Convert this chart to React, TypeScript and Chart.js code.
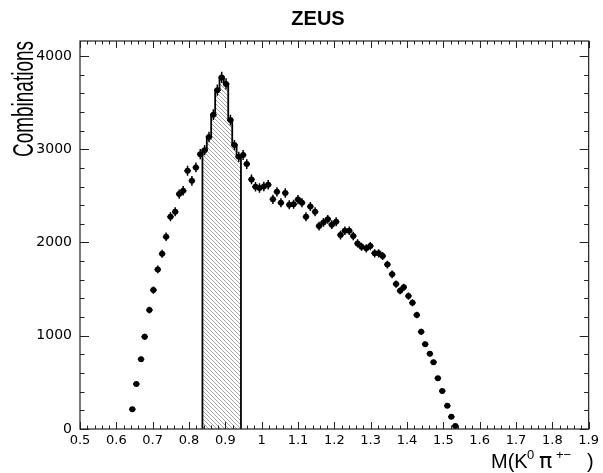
import React, { useEffect, useRef } from 'react';
import { Chart, registerables } from 'chart.js';

Chart.register(...registerables);

const TITLE = 'ZEUS';
const Y_TITLE = 'Combinations';
const X_TITLE_PARTS = ['M(K', '0', 'π', '+−', ')'];

// Bin centres of the K0 pi+- invariant mass (GeV)
const massValues = [
  0.644, 0.655, 0.668, 0.678, 0.691, 0.702, 0.714, 0.726, 0.737, 0.749,
  0.762, 0.773, 0.784, 0.796, 0.808, 0.819, 0.831, 0.843, 0.855, 0.867,
  0.878, 0.890, 0.902, 0.914, 0.925, 0.937, 0.949, 0.959, 0.972, 0.983,
  0.994, 1.006, 1.018, 1.031, 1.042, 1.053, 1.065, 1.076, 1.088, 1.100,
  1.111, 1.122, 1.134, 1.147, 1.158, 1.170, 1.182, 1.193, 1.205, 1.217,
  1.229, 1.241, 1.252, 1.264, 1.275, 1.288, 1.299, 1.311, 1.322, 1.333,
  1.346, 1.359, 1.370, 1.381, 1.391, 1.404, 1.415, 1.427, 1.439, 1.450,
  1.463, 1.473, 1.485, 1.497, 1.511, 1.522, 1.533,
];

// Combinations per bin
const combinations = [
  211, 482, 747, 989, 1275, 1490, 1711, 1879, 2061, 2276,
  2329, 2519, 2554, 2769, 2661, 2805, 2947, 2990, 3130, 3370,
  3633, 3770, 3700, 3312, 3044, 2918, 2937, 2840, 2676, 2597,
  2585, 2600, 2620, 2462, 2543, 2426, 2530, 2404, 2410, 2460,
  2426, 2276, 2386, 2329, 2176, 2215, 2248, 2190, 2222, 2079,
  2125, 2125, 2069, 1990, 1954, 1937, 1961, 1883, 1883, 1854,
  1763, 1658, 1554, 1482, 1519, 1425, 1354, 1222, 1043, 908,
  807, 715, 543, 407, 250, 132, 32,
];

// Vertical error bar half-lengths
const combErrors = [
  15, 22, 27, 31, 36, 39, 41, 43, 45, 48,
  48, 50, 51, 53, 52, 53, 54, 55, 56, 58,
  60, 61, 61, 58, 55, 54, 54, 53, 52, 51,
  51, 51, 51, 50, 50, 49, 50, 49, 49, 50,
  49, 48, 49, 48, 47, 47, 47, 47, 47, 46,
  46, 46, 45, 45, 44, 44, 44, 43, 43, 43,
  42, 41, 39, 38, 39, 38, 37, 35, 32, 30,
  28, 27, 23, 20, 16, 11, 6,
];
const massError = 0.009;

// Shaded K*(892) signal-window histogram
const histEdges = [0.837, 0.849, 0.861, 0.872, 0.884, 0.896, 0.908, 0.919, 0.931, 0.943];
const histCounts = [2990, 3130, 3370, 3633, 3770, 3700, 3312, 3044, 2918];

const xTickValues = [0.5, 0.6, 0.7, 0.8, 0.9, 1.0, 1.1, 1.2, 1.3, 1.4, 1.5, 1.6, 1.7, 1.8, 1.9];
const xTickLabels = ['0.5', '0.6', '0.7', '0.8', '0.9', '1', '1.1', '1.2', '1.3', '1.4', '1.5', '1.6', '1.7', '1.8', '1.9'];
const yTickValues = [0, 1000, 2000, 3000, 4000];
const yTickLabels = ['0', '1000', '2000', '3000', '4000'];

const X_MIN = 0.5;
const X_MAX = 1.9;
const Y_MIN = 0;
const Y_MAX = 4160;

const SANS = '"Liberation Sans", Arial, Helvetica, sans-serif';

function makeHatch(): CanvasPattern | string {
  const c = document.createElement('canvas');
  c.width = 4;
  c.height = 4;
  const g = c.getContext('2d');
  if (!g) return '#ccc';
  g.fillStyle = '#ffffff';
  g.fillRect(0, 0, 4, 4);
  g.strokeStyle = '#8c8c8c';
  g.lineWidth = 0.8;
  g.beginPath();
  g.moveTo(-1, -1);
  g.lineTo(5, 5);
  g.moveTo(-1, 3);
  g.lineTo(1, 5);
  g.moveTo(3, -1);
  g.lineTo(5, 1);
  g.stroke();
  const p = g.createPattern(c, 'repeat');
  return p || '#ccc';
}

const errorBarPlugin = {
  id: 'errorBars',
  afterDatasetsDraw(chart: any) {
    const { ctx, scales } = chart;
    const xs = scales.x;
    const ys = scales.y;
    ctx.save();
    ctx.strokeStyle = '#000';
    ctx.lineWidth = 1.5;
    ctx.beginPath();
    for (let i = 0; i < massValues.length; i++) {
      const px = xs.getPixelForValue(massValues[i]);
      const py = ys.getPixelForValue(combinations[i]);
      const y1 = ys.getPixelForValue(combinations[i] - combErrors[i]);
      const y2 = ys.getPixelForValue(combinations[i] + combErrors[i]);
      const x1 = xs.getPixelForValue(massValues[i] - massError);
      const x2 = xs.getPixelForValue(massValues[i] + massError);
      ctx.moveTo(px, y1);
      ctx.lineTo(px, y2);
      ctx.moveTo(x1, py);
      ctx.lineTo(x2, py);
    }
    ctx.stroke();
    ctx.restore();
  },
};

const decorPlugin = {
  id: 'decor',
  afterDraw(chart: any) {
    const { ctx, chartArea: a, scales } = chart;
    const xs = scales.x;
    const ys = scales.y;
    ctx.save();
    // frame
    ctx.strokeStyle = '#222';
    ctx.lineWidth = 1.2;
    ctx.strokeRect(a.left, a.top, a.right - a.left, a.bottom - a.top);
    // x ticks (top and bottom, inward)
    ctx.lineWidth = 1;
    ctx.beginPath();
    for (let k = 0; k <= 70; k++) {
      const v = X_MIN + k * 0.02;
      const px = Math.round(xs.getPixelForValue(v)) + 0.5;
      const len = k % 5 === 0 ? 7 : 3.5;
      ctx.moveTo(px, a.bottom);
      ctx.lineTo(px, a.bottom - len);
      ctx.moveTo(px, a.top);
      ctx.lineTo(px, a.top + len);
    }
    // y ticks (left and right, inward)
    for (let k = 0; k <= 20; k++) {
      const v = k * 200;
      const py = Math.round(ys.getPixelForValue(v)) + 0.5;
      const len = k % 5 === 0 ? 9 : 4.5;
      ctx.moveTo(a.left, py);
      ctx.lineTo(a.left + len, py);
      ctx.moveTo(a.right, py);
      ctx.lineTo(a.right - len, py);
    }
    ctx.stroke();

    ctx.fillStyle = '#000';
    // Title
    ctx.font = `bold 20px ${SANS}`;
    ctx.textAlign = 'center';
    ctx.textBaseline = 'alphabetic';
    ctx.fillText(TITLE, 318, 25);

    // Y-axis title, condensed along its length
    ctx.save();
    ctx.font = `29px ${SANS}`;
    const w = ctx.measureText(Y_TITLE).width;
    const targetLen = 116;
    ctx.translate(33, (a.top + 157) / 2);
    ctx.rotate(-Math.PI / 2);
    ctx.scale(targetLen / w, 1);
    ctx.textAlign = 'center';
    ctx.fillText(Y_TITLE, 0, 0);
    ctx.restore();

    // X-axis title M(K^0 pi^+-)
    const base = 468;
    ctx.textAlign = 'left';
    ctx.font = `20px ${SANS}`;
    ctx.fillText(X_TITLE_PARTS[0], 491, base);
    ctx.font = `13px ${SANS}`;
    ctx.fillText(X_TITLE_PARTS[1], 527, base - 9);
    ctx.font = `22px "DejaVu Sans", ${SANS}`;
    ctx.fillText(X_TITLE_PARTS[2], 539, base);
    ctx.font = `13px ${SANS}`;
    ctx.fillText(X_TITLE_PARTS[3], 556, base - 9);
    ctx.font = `20px ${SANS}`;
    ctx.fillText(X_TITLE_PARTS[4], 587, base);
    ctx.restore();
  },
};

export default function App() {
  const canvasRef = useRef<HTMLCanvasElement | null>(null);

  useEffect(() => {
    const canvas = canvasRef.current;
    if (!canvas) return;

    const histPoints: { x: number; y: number }[] = [];
    histPoints.push({ x: histEdges[0], y: 0 });
    for (let i = 0; i < histCounts.length; i++) {
      histPoints.push({ x: histEdges[i], y: histCounts[i] });
      histPoints.push({ x: histEdges[i + 1], y: histCounts[i] });
    }
    histPoints.push({ x: histEdges[histEdges.length - 1], y: 0 });

    const points = massValues.map((m, i) => ({ x: m, y: combinations[i] }));

    const chart = new Chart(canvas, {
      type: 'line',
      data: {
        datasets: [
          {
            label: 'data',
            data: points,
            showLine: false,
            pointRadius: 3,
            pointBackgroundColor: '#000',
            pointBorderWidth: 0,
            borderColor: '#000',
            order: 0,
          } as any,
          {
            label: 'signal window',
            data: histPoints,
            borderColor: '#000',
            borderWidth: 1.8,
            pointRadius: 0,
            tension: 0,
            fill: 'origin',
            backgroundColor: makeHatch(),
            order: 1,
          } as any,
        ],
      },
      options: {
        animation: false,
        responsive: false,
        devicePixelRatio: 1,
        events: [],
        layout: { padding: { top: 41, right: 11, bottom: 0, left: 0 } },
        plugins: {
          legend: { display: false },
          title: { display: false },
          tooltip: { enabled: false },
        },
        scales: {
          x: {
            type: 'linear',
            min: X_MIN,
            max: X_MAX,
            grid: { display: false, drawTicks: false },
            border: { display: false },
            afterBuildTicks: (scale: any) => {
              scale.ticks = xTickValues.map((v) => ({ value: v }));
            },
            afterFit: (scale: any) => {
              scale.height = 44;
            },
            ticks: {
              padding: 4,
              autoSkip: false,
              maxRotation: 0,
              color: '#000',
              font: { family: '"DejaVu Sans", sans-serif', size: 13 },
              callback: (_v: any, i: number) => xTickLabels[i],
            },
          },
          y: {
            type: 'linear',
            min: Y_MIN,
            max: Y_MAX,
            grid: { display: false, drawTicks: false },
            border: { display: false },
            afterBuildTicks: (scale: any) => {
              scale.ticks = yTickValues.map((v) => ({ value: v }));
            },
            afterFit: (scale: any) => {
              scale.width = 80;
            },
            ticks: {
              padding: 8,
              color: '#000',
              font: { family: '"DejaVu Sans", sans-serif', size: 14 },
              callback: (_v: any, i: number) => yTickLabels[i],
            },
          },
        },
      },
      plugins: [errorBarPlugin, decorPlugin],
    } as any);

    return () => chart.destroy();
  }, []);

  return (
    <div style={{ position: 'absolute', left: 0, top: 0, width: 603, height: 473, background: '#fff' }}>
      <canvas ref={canvasRef} width={603} height={473} style={{ width: 603, height: 473, display: 'block' }} />
    </div>
  );
}
